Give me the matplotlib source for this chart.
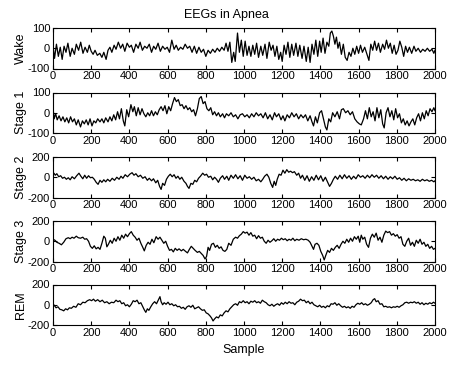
import matplotlib
matplotlib.use("Agg")
import matplotlib.pyplot as plt

plt.rcParams['font.family'] = ['Liberation Sans', 'DejaVu Sans']

# ---------------- data (sample index, amplitude) ----------------
wake_x = [0, 8, 18, 28, 38, 48, 58, 68, 78, 90, 100, 112, 122, 134, 145, 157, 168, 180, 190,
          200, 210, 220, 232, 245, 256, 266, 278, 288,
          298, 308, 320, 330, 342, 354, 365, 376, 388, 400, 410, 422, 434, 446, 456, 468, 480, 492,
          504, 516, 527, 538, 550, 562, 574, 586, 598, 610, 622, 634, 645, 656, 668, 680, 692, 704, 716,
          728, 740, 752, 764, 776, 788, 800, 812, 824, 836, 848, 860, 872, 884, 896, 906, 916, 926, 936,
          946, 954, 966, 976, 986, 996, 1006,
          1016, 1026, 1036, 1046, 1056, 1066, 1076, 1088, 1098, 1110, 1120, 1132, 1142, 1152, 1162, 1172,
          1182, 1192, 1200, 1210, 1220, 1230, 1240, 1250, 1260, 1272, 1282, 1292, 1304, 1314, 1326, 1336,
          1346, 1356, 1366, 1376, 1386, 1396, 1404, 1414, 1424, 1434, 1444, 1452, 1460, 1468, 1476, 1484,
          1492, 1500, 1510, 1520, 1530, 1540, 1550, 1560, 1570, 1580, 1590, 1600, 1610, 1620, 1632, 1644,
          1654, 1664, 1674, 1684, 1694, 1704, 1714, 1726, 1736, 1746, 1756, 1766, 1776, 1786, 1796, 1806,
          1816, 1826, 1836, 1846, 1856, 1866, 1878, 1890, 1900, 1912, 1924, 1936, 1948, 1960, 1972, 1984,
          1994, 2000]
wake_y = [15, -50, 20, -40, 5, -55, 10, -20, 25, -40, 0, -30, 20, -10, 30, -25, 5, -20, 15,
          -15, -30, -10, -35, -25, -45, -20, -55, -10,
          5, -20, 15, -5, 30, 0, 20, -15, 25, 5, 15, -20, 20, 0, 30, -10, 10, 0,
          20, -20, 10, -5, 25, -15, 10, -5, 5, -20, 40, -5, 15, -10, 5, -5, 20, 0, 10,
          -20, 10, -25, 5, -20, -5, -40, -10, -25, -5, -20, 0, -15, 5, -10, 25, -15, 30, -70,
          -20, -65, 75, -20, 40, -40, 35,
          -35, 10, -40, 15, -30, 25, -45, 10, -35, 20, -50, 30, -10, 15, -40, 10,
          -55, -20, -65, 15, -30, 30, -45, 20, -35, 25, -40, 15, -50, 10, -65, 5,
          -70, 20, -30, 40, -40, 35, -20, 50, -25, 30, 10, 75, 85, 60, 20, 55,
          0, 30, -30, 20, -45, -60, -20, -40, 0, -30, 10, -25, 15, -20, 5, -30,
          -60, 20, -10, 35, -10, 25, -20, 20, -5, 40, 0, 25, -25, 15, -30, -10,
          35, 5, -40, 10, -20, 5, -25, 10, -15, 0, -20, -5, -15, 0, -15, -5,
          -25, -10]

stage1_x = [0, 6, 14, 22, 32, 42, 52, 62, 72, 82, 92, 102, 112, 122, 132, 144, 154, 164, 174, 184,
            194, 204, 214, 224, 234, 246, 256, 266, 276, 288, 298, 308, 318, 328, 338, 348, 358, 368,
            376, 386, 396, 408, 418, 426, 436, 446, 456, 466, 476, 486, 496, 506, 516, 526, 536, 546,
            556, 566, 576, 586, 596, 606, 616, 626, 636, 646, 656, 666, 676, 686, 696, 706, 716, 726,
            736, 746, 756, 766, 776, 786, 796, 806, 816, 826, 836, 846, 856, 866, 876, 888, 898, 908,
            920, 932, 944, 956, 968, 980, 992, 1004, 1016, 1028, 1040, 1052, 1064, 1076, 1088, 1100,
            1112, 1124, 1136, 1148, 1160, 1170, 1182, 1194, 1204, 1214, 1226, 1238, 1250, 1262, 1274,
            1286, 1298, 1310, 1322, 1334, 1346, 1356, 1364, 1374, 1384, 1396, 1406, 1416, 1426, 1434,
            1444, 1454, 1464, 1476, 1488, 1500, 1510, 1520, 1532, 1544, 1556, 1568, 1580, 1592, 1604,
            1614, 1626, 1636, 1646, 1656, 1666, 1676, 1686, 1696, 1706, 1716, 1726, 1734, 1744, 1754,
            1764, 1774, 1784, 1794, 1804, 1814, 1824, 1834, 1844, 1854, 1864, 1874, 1884, 1894, 1904,
            1914, 1924, 1934, 1944, 1954, 1964, 1974, 1984, 1994, 2000]
stage1_y = [25, -30, -5, -35, -15, -40, -20, -45, -25, -50, -20, -45, -30, -60, -35, -70, -40, -55, -35, -60,
            -30, -65, -40, -50, -30, -45, -30, -50, -25, -45, -20, -40, -10, -35, 5, -30, 20, -40,
            -65, 15, -20, 40, 5, 30, -15, 25, -10, 20, -5, -20, 0, -15, 10, -15, 5, -10,
            15, 30, 10, 35, -5, 30, 10, 45, 75, 55, 65, 35, 40, 20, 35, 15, 25, 5,
            15, -15, 20, 70, 80, 45, 55, 20, 10, 25, -10, 5, -15, 0, -20, -5, -25, -5,
            -15, 0, -20, -10, -30, -10, -5, -20, -10, -25, -5, -20, 0, -15, -5, -25,
            0, -30, -10, -35, 0, -20, -5, -35, -15, -40, -10, -25, 0, -20, -5,
            -30, -10, -25, -10, -40, -15, -45, -65, -20, -50, 0, 10, -30, -70, -85,
            -30, -45, 0, -20, 5, -30, 15, 20, 0, 10, -10, 5, -30, -45, -55,
            -60, -30, 10, -30, 25, -20, 5, -40, 25, -25, 15, -55, -75, 0, 25,
            -20, 10, -35, 20, -25, -5, -50, -30, -60, -40, -65, -45, -30, -60, -25,
            -5, -40, 0, -30, 10, -15, 20, 5, 25, 10]

stage2_x = [0, 5, 12, 20, 30, 40, 50, 60, 70, 80, 90, 100, 112, 124, 136, 146, 156, 166, 176, 186,
            196, 206, 216, 226, 236, 246, 256, 266, 276, 286, 298, 310, 322, 334, 346, 356, 366, 378,
            390, 402, 414, 424, 434, 446, 458, 470, 482, 494, 504, 516, 526, 538, 548, 558, 566, 574,
            584, 594, 604, 614, 624, 634, 644, 654, 664, 674, 686, 696, 704, 712, 722, 732, 742, 752,
            762, 772, 784, 794, 804, 814, 826, 836, 846, 856, 866, 876, 888, 898, 910, 920, 932, 944,
            956, 968, 980, 992, 1004, 1016, 1028, 1040, 1052, 1064, 1076, 1088, 1098, 1108, 1120, 1130,
            1140, 1150, 1158, 1166, 1174, 1184, 1194, 1204, 1214, 1224, 1234, 1244, 1254, 1264, 1276,
            1286, 1296, 1306, 1318, 1330, 1342, 1354, 1366, 1378, 1390, 1402, 1414, 1426, 1438, 1448,
            1458, 1468, 1478, 1490, 1502, 1514, 1526, 1538, 1550, 1562, 1574, 1586, 1598, 1610, 1622,
            1634, 1646, 1658, 1670, 1682, 1694, 1706, 1718, 1730, 1742, 1754, 1766, 1778, 1790, 1802,
            1814, 1826, 1838, 1850, 1862, 1874, 1886, 1898, 1910, 1922, 1934, 1946, 1958, 1970, 1982,
            1994, 2000]
stage2_y = [30, 40, 20, 35, 5, 15, -10, 0, -20, -5, -25, 5, -15, 15, 40, 10, -15, 20, -10, 15,
            -5, 0, -20, -50, -70, -30, -50, -25, -45, -20, -40, -10, -30, 0, -20, 10, -10, 25,
            5, 30, 45, 20, 35, 5, 20, -10, 5, -30, -10, -35, -15, -55, -30, -90, -120, -60,
            -80, -20, 10, 30, 5, 25, -10, 10, -20, 0, -40, -60, -90, -110, -60, -70, -30, -45,
            -10, 10, 40, 20, 30, 0, 10, -25, 0, -20, -50, -10, 15, -20, 10, -30, 20, -10,
            25, -15, 15, -30, 20, -10, 5, -20, 0, -35, -20, -45, -20, 10, 30, 0,
            -60, -100, -40, -80, -20, 30, 20, 70, 40, 75, 50, 60, 45, 55, 20,
            40, -10, 20, -30, 15, -40, 5, -30, 20, -25, 15, -40, 0, -50, -90,
            -60, -20, 10, -20, 20, -15, 25, -10, 15, -20, 10, -15, 25, 0, 15,
            -10, 20, -5, 25, 0, 20, -10, 15, -15, 10, -20, 5, -15, 10, -20,
            -5, -30, -10, -35, -15, -30, -20, -35, -25, -40, -20, -35, -25, -40, -30,
            -45, -35]

stage3_x = [0, 10, 20, 32, 44, 56, 68, 80, 90, 100, 110, 122, 132, 144, 156, 166, 176, 186, 196, 206,
            216, 226, 236, 246, 256, 266, 274, 282, 290, 300, 310, 320, 330, 340, 350, 360, 370, 380,
            390, 400, 410, 420, 430, 440, 450, 460, 470, 478, 488, 498, 508, 518, 528, 540, 550, 560,
            570, 580, 590, 600, 610, 620, 630, 640, 650, 660, 672, 682, 694, 704, 714, 724, 734, 744,
            756, 766, 776, 786, 796, 804, 812, 820, 830, 840, 850, 860, 870, 880, 890, 900, 910, 920,
            932, 944, 956, 966, 976, 986, 996, 1006, 1016, 1026, 1036, 1046, 1056, 1066, 1076, 1086,
            1096, 1106, 1116, 1126, 1136, 1146, 1156, 1166, 1176, 1186, 1196, 1206, 1216, 1226, 1236,
            1246, 1256, 1266, 1276, 1288, 1300, 1312, 1324, 1336, 1346, 1356, 1364, 1372, 1382, 1392,
            1402, 1412, 1420, 1428, 1438, 1448, 1458, 1468, 1478, 1488, 1498, 1508, 1518, 1528, 1538,
            1548, 1558, 1568, 1578, 1588, 1598, 1606, 1614, 1622, 1632, 1642, 1652, 1662, 1672, 1682,
            1692, 1702, 1712, 1722, 1732, 1742, 1752, 1762, 1772, 1782, 1792, 1802, 1812, 1822, 1832,
            1842, 1852, 1862, 1872, 1882, 1892, 1902, 1912, 1922, 1932, 1942, 1952, 1962, 1972, 1982,
            1992, 2000]
stage3_y = [20, 10, -10, -20, -35, -10, 25, 35, 25, 40, 30, 50, 35, 30, 40, 20, 25, 0, -50, -70,
            -45, -75, -60, -80, -20, 50, 30, -55, -30, 10, -20, 30, 0, 45, 10, 60, 30, 70,
            45, 75, 95, 60, 40, 10, 30, -20, -60, -95, -40, -10, -30, 20, -15, 45, 20, 40,
            10, -20, 0, -50, -90, -80, -105, -70, -90, -75, -95, -80, -100, -115, -80, -50, -70, -90,
            -110, -100, -120, -140, -175, -150, -60, -90, -30, -20, -60, -40, -70, -55, -90, -100, -80, -20,
            -40, 20, 40, 30, 55, 70, 95, 80, 90, 60, 85, 50, 60, 25, 55, 30,
            40, 0, -20, 10, -10, 5, 25, 0, 20, 10, 30, 15, 25, 5, 20,
            10, 30, 5, 20, 10, 25, 15, 20, 10, -10, -50, -80, -30, -20, -40,
            -100, -140, -185, -140, -90, -110, -70, -90, -60, -40, -70, -30, 0, -20, 20,
            -10, 30, 0, 45, 20, 50, -10, 60, 20, 40, -30, -60, 30, 70, 40,
            80, 10, 40, -10, 60, 100, 85, 95, 60, 75, 50, 65, 30, 45, -30,
            -50, 0, 30, -40, -10, -50, 10, -20, 20, -30, -10, -50, -30, -70, -50,
            -80, -70]

rem_x = [0, 8, 16, 26, 36, 46, 56, 66, 76, 86, 96, 108, 120, 132, 144, 156, 168, 180, 192, 202,
         212, 222, 234, 246, 258, 270, 282, 294, 306, 318, 330, 340, 350, 360, 370, 380, 390, 400,
         410, 420, 430, 440, 450, 460, 470, 478, 486, 494, 502, 512, 522, 532, 542, 552, 560, 566,
         574, 582, 592, 602, 612, 622, 632, 642, 652, 662, 672, 682, 692, 702, 712, 722, 732, 742,
         752, 762, 772, 782, 792, 802, 812, 822, 830, 838, 846, 856, 866, 876, 886, 896, 906, 916,
         926, 936, 946, 956, 966, 976, 986, 996, 1006, 1016, 1026, 1036, 1046, 1056, 1066, 1076,
         1086, 1096, 1106, 1116, 1126, 1136, 1146, 1156, 1166, 1176, 1186, 1196, 1206, 1216, 1226,
         1236, 1246, 1256, 1266, 1276, 1286, 1296, 1306, 1316, 1326, 1336, 1346, 1356, 1366, 1376,
         1386, 1396, 1406, 1416, 1426, 1436, 1446, 1456, 1466, 1476, 1486, 1496, 1506, 1516, 1526,
         1536, 1546, 1556, 1566, 1576, 1586, 1596, 1606, 1616, 1626, 1636, 1646, 1656, 1666, 1676,
         1684, 1692, 1702, 1712, 1722, 1732, 1742, 1752, 1762, 1772, 1782, 1792, 1802, 1812, 1822,
         1832, 1842, 1852, 1862, 1872, 1882, 1892, 1902, 1912, 1922, 1932, 1942, 1952, 1962, 1972,
         1982, 1992, 2000]
rem_y = [10, -10, -30, -20, -45, -50, -60, -40, -50, -30, -35, -15, -25, 10, 0, 25, 20, 40, 50, 40,
         55, 35, 50, 30, 45, 20, 30, 10, 25, 20, 45, 30, 40, 10, 20, -10, 0, -20,
         5, 40, 30, 45, 10, 20, -20, -50, -75, -40, -55, -20, 10, 30, 10, 50, 80, 30,
         0, 20, 5, 25, 0, 10, -10, 0, -20, -15, -35, -25, -45, -20, -10, -25, -5, -40,
         -30, -20, -40, -55, -50, -80, -90, -110, -130, -160, -140, -120, -130, -100, -110, -80, -60, -70,
         -40, -20, 0, 10, -5, 30, 20, 40, 20, 30, 10, 35, 25, 40, 20, 30,
         15, 45, 30, 20, 0, -10, 5, -15, 0, 10, -5, 20, 5, 25, 10,
         30, 15, 20, 0, 25, 35, 55, 40, 45, 20, 35, 10, 25, 0, -10,
         -20, -5, -25, -15, -30, -10, -20, 10, 5, 20, -5, 10, -10, -25, -15,
         -30, -20, -35, -15, -25, 0, 15, 5, 20, 0, 10, -5, 5, 20, 50,
         60, 30, 40, 5, 10, -20, -15, -25, -20, -30, -20, -25, -15, -25, -10,
         0, 20, 25, 15, 25, 20, 30, 15, 25, 5, 20, 0, 15, 5, 20,
         10, 25, 15]

series = [wake_x, stage1_x, stage2_x, stage3_x, rem_x]
values = [wake_y, stage1_y, stage2_y, stage3_y, rem_y]
labels = ["Wake", "Stage 1", "Stage 2", "Stage 3", "REM"]
limits = [100, 100, 200, 200, 200]
xticks = list(range(0, 2001, 200))
title = "EEGs in Apnea"
xlabel = "Sample"

# ---------------- layout ----------------
W, H = 453, 370
fig = plt.figure(figsize=(W / 100, H / 100), dpi=100)
tops = [28, 92.5, 157, 221, 284.5]
ax_h = 40.5
left_px, right_px = 53, 435

for i in range(5):
    bottom = 1 - (tops[i] + ax_h) / H
    ax = fig.add_axes([left_px / W, bottom, (right_px - left_px) / W, ax_h / H])
    ax.plot(series[i], values[i], color='black', lw=0.9)
    lim = limits[i]
    ax.set_xlim(0, 2000)
    ax.set_ylim(-lim, lim)
    ax.set_xticks(xticks)
    ax.set_xticklabels([str(t) for t in xticks])
    ax.set_yticks([-lim, 0, lim])
    ax.set_yticklabels([str(-lim), "0", str(lim)])
    ax.tick_params(direction='in', top=True, right=True, length=3, width=0.8,
                   labelsize=8, pad=2, colors='black')
    for s in ax.spines.values():
        s.set_linewidth(0.8)
    yc = 1 - (tops[i] + ax_h / 2) / H
    fig.text(21 / W, yc, labels[i], rotation=90, ha='center', va='center', fontsize=9)

fig.text(0.5, 1 - 15 / H, title, ha='center', va='center', fontsize=9)
fig.text((left_px + right_px) / 2 / W, 1 - 350 / H, xlabel, ha='center', va='center', fontsize=9)

fig.savefig("out.png", dpi=100, facecolor='white')
